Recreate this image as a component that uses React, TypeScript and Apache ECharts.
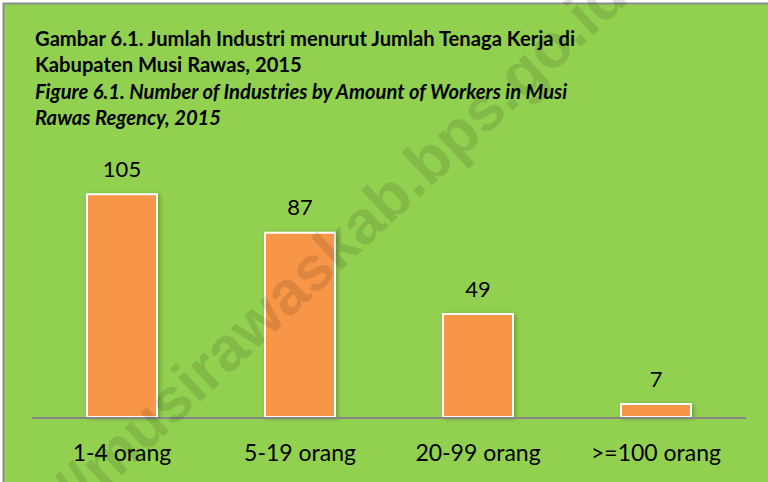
import React, { useEffect, useRef } from "react";
import * as echarts from "echarts";

const categories = ["1-4 orang", "5-19 orang", "20-99 orang", ">=100 orang"];
const values = [105, 87, 49, 7];
const titleLines = [
  "Gambar 6.1. Jumlah Industri menurut Jumlah Tenaga Kerja di",
  "Kabupaten Musi Rawas, 2015",
];
const subtitleLines = [
  "Figure 6.1. Number of Industries by Amount of Workers in Musi",
  "Rawas Regency, 2015",
];
const watermark = "//musirawaskab.bps.go.id";

const FONT = "Lato, 'Open Sans', sans-serif";

export default function App() {
  const ref = useRef<HTMLDivElement>(null);
  useEffect(() => {
    document.body.style.margin = "0";
    const chart = echarts.init(ref.current!, null, { renderer: "svg" });
    const allTitle = [...titleLines, ...subtitleLines];
    chart.setOption({
      animation: false,
      backgroundColor: "#ffffff",
      grid: { left: 33, right: 23, top: 161, bottom: 64 },
      xAxis: {
        type: "category",
        data: categories,
        axisLine: { lineStyle: { color: "#868686", width: 2 } },
        axisTick: { show: false },
        axisLabel: { color: "#000", fontSize: 23, fontFamily: FONT, margin: 22 },
        z: 3,
      },
      yAxis: {
        type: "value",
        min: 0,
        max: 120,
        show: false,
        splitLine: { show: false },
      },
      series: [
        {
          type: "bar",
          data: values,
          barWidth: 72,
          itemStyle: {
            color: "#F79646",
            borderColor: "#ffffff",
            borderWidth: 2,
            shadowColor: "rgba(0,0,0,0.25)",
            shadowBlur: 4,
            shadowOffsetX: 2,
            shadowOffsetY: 1,
          },
          label: {
            show: true,
            position: "top",
            distance: 14,
            color: "#000",
            fontSize: 22,
            fontFamily: FONT,
          },
          z: 2,
        },
      ],
      graphic: [
        {
          type: "rect",
          z: -10,
          silent: true,
          shape: { x: 3.5, y: 3.5, width: 800, height: 600 },
          style: { fill: "#92D050", stroke: "#8c8c8c", lineWidth: 2 },
        },
        ...allTitle.map((t, i) => ({
          type: "text",
          x: 35,
          y: 38 + i * 26.3,
          z: 10,
          style: {
            text: t,
            fill: "#000",
            fontSize: 20.2,
            fontWeight: "bold",
            fontStyle: i >= 2 ? "italic" : "normal",
            fontFamily: FONT,
            verticalAlign: "middle",
            align: "left",
          },
        })),
        {
          type: "text",
          x: 340,
          y: 242,
          rotation: (43 * Math.PI) / 180,
          z: 100,
          silent: true,
          style: {
            text: watermark,
            fill: "rgba(0,0,0,0.11)",
            fontSize: 62,
            fontWeight: "bold",
            fontFamily: "'Liberation Sans', Arial, sans-serif",
            align: "center",
            verticalAlign: "middle",
          },
        },
      ],
    });
    return () => chart.dispose();
  }, []);
  return <div ref={ref} style={{ width: 768, height: 482 }} />;
}
